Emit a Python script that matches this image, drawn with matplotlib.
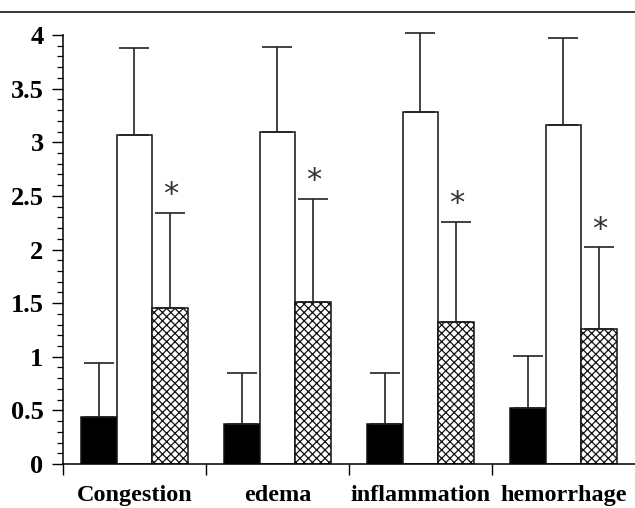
import numpy as np
import matplotlib.pyplot as plt
from matplotlib.lines import Line2D

categories = ['Congestion', 'edema', 'inflammation', 'hemorrhage']
black_vals = [0.44, 0.37, 0.37, 0.52]
black_err = [0.50, 0.48, 0.48, 0.49]
white_vals = [3.07, 3.10, 3.28, 3.16]
white_err = [0.81, 0.79, 0.74, 0.81]
hatch_vals = [1.45, 1.51, 1.32, 1.26]
hatch_err = [0.89, 0.96, 0.94, 0.76]

plt.rcParams['font.family'] = ['Liberation Serif', 'DejaVu Serif']
plt.rcParams['hatch.linewidth'] = 0.9

fig = plt.figure(figsize=(6.35, 5.08), dpi=100)
ax = fig.add_axes([0.0992, 0.0866, 0.9008, 0.8445])

x = np.arange(len(categories)) + 0.5
w = 0.25
zeros = np.zeros(len(categories))
ekw = dict(elinewidth=1.2, capthick=1.2, capsize=11, ecolor='#222222')

groups = [
    (x - w, black_vals, black_err, 'black', None),
    (x, white_vals, white_err, 'white', None),
    (x + w, hatch_vals, hatch_err, 'white', 'xxxx'),
]
for pos, vals, errs, fc, hatch in groups:
    bars = ax.bar(pos, vals, w, color=fc, edgecolor='#111111', linewidth=1.1,
                  hatch=hatch, yerr=[zeros, errs], error_kw=ekw)
    for art in bars.errorbar.lines[1] + bars.errorbar.lines[2]:
        art.set_clip_on(False)

# significance stars above the hatched bars
for xi, v, e in zip(x + w, hatch_vals, hatch_err):
    ax.text(xi, v + e + 0.17, '*', ha='center', va='center', fontsize=22,
            family='DejaVu Sans', color='#333333')

ax.set_xlim(0, 4)
ax.set_ylim(0, 4)
ax.spines['top'].set_visible(False)
ax.spines['right'].set_visible(False)
ax.spines['left'].set_linewidth(1.1)
ax.spines['bottom'].set_linewidth(1.1)

ax.set_yticks(np.arange(0, 4.01, 0.5))
ax.set_yticklabels(['0', '0.5', '1', '1.5', '2', '2.5', '3', '3.5', '4'])
ax.set_yticks(np.arange(0, 4.01, 0.1), minor=True)
ax.tick_params(axis='y', which='major', length=8, width=1.0, pad=6,
               labelsize=19)
ax.tick_params(axis='y', which='minor', length=4, width=0.9)
for lab in ax.get_yticklabels():
    lab.set_fontweight('bold')

ax.set_xticks([0, 1, 2, 3])
ax.set_xticklabels([])
ax.set_xticks(x, minor=True)
ax.set_xticklabels(categories, minor=True, fontsize=17.5, fontweight='bold')
ax.tick_params(axis='x', which='major', length=8, width=1.0)
ax.tick_params(axis='x', which='minor', length=0, pad=15)

fig.add_artist(Line2D([0, 1], [0.977, 0.977], color='black', linewidth=1.1,
                      transform=fig.transFigure))

fig.savefig('out.png', dpi=100)
